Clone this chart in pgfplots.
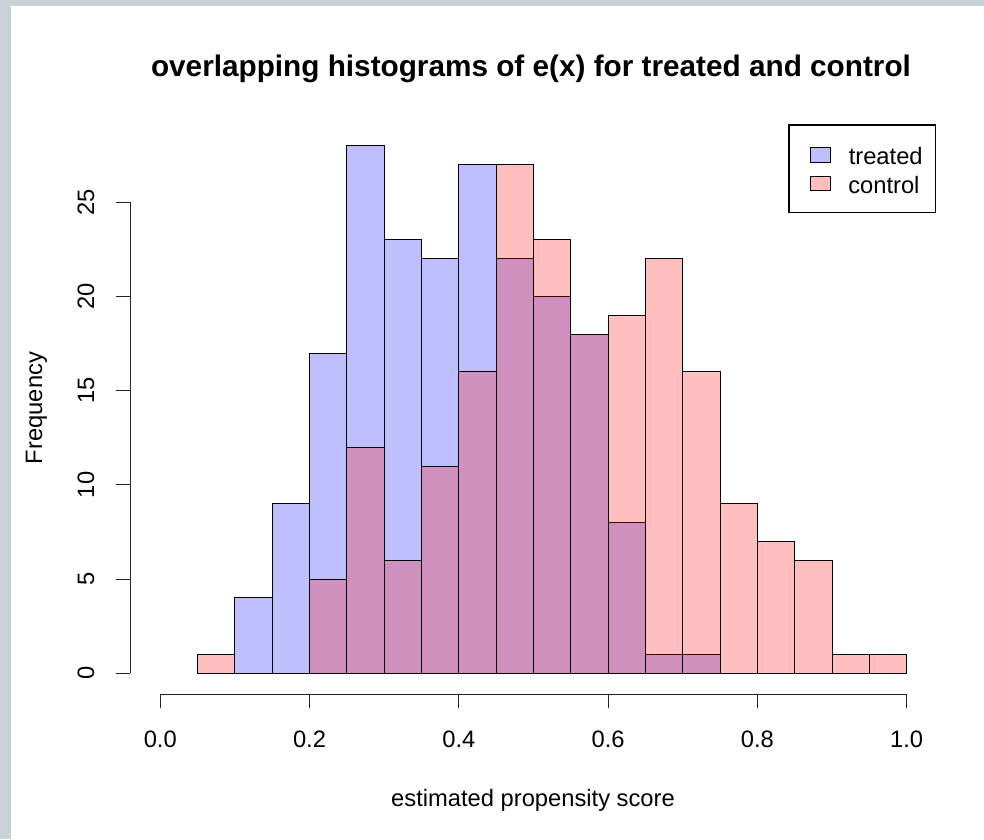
\documentclass[border=0pt]{standalone}
\usepackage{fontspec}
\setmainfont{Liberation Sans}
\usepackage{pgfplots}
\pgfplotsset{compat=1.18}
\definecolor{framegray}{RGB}{200,210,217}
\newcommand{\lab}{\fontsize{17.8}{20}\selectfont}

\begin{document}
\begin{tikzpicture}
% picture in pixel units (1px = 0.75pt), y measured upwards (Y = 839 - row)
\begin{scope}[x=0.75pt,y=0.75pt]
\fill[framegray] (0,0) rectangle (984,839);
\fill[white] (11,0) rectangle (984,833);
\end{scope}

\begin{axis}[
    at={(97.8pt,108.45pt)}, anchor=south west,
    scale only axis, width=604.6pt, height=427.3pt,
    xmin=-0.04, xmax=1.04, ymin=-1.12, ymax=29.12,
    clip=false,
    axis x line*=bottom, axis y line*=left,
    axis line style={draw=none},
    tick align=outside, major tick length=10.5pt,
    tick style={black!85, line width=0.8pt},
    xtick={0,0.2,0.4,0.6,0.8,1}, ytick={0,5,10,15,20,25},
    minor tick num=0,
    /pgf/number format/assume math mode=true,
    xticklabel style={font=\lab, anchor=base,
        /pgf/number format/fixed, /pgf/number format/fixed zerofill,
        /pgf/number format/precision=1},
    xticklabel shift=29pt,
    yticklabel style={font=\lab, rotate=90, anchor=base},
    yticklabel shift=16.7pt,
]
% treated
\addplot[ybar interval, fill=blue, fill opacity=0.25, draw=black, line width=0.75pt]
  coordinates {(0.10,4) (0.15,9) (0.20,17) (0.25,28) (0.30,23) (0.35,22) (0.40,27)
               (0.45,22) (0.50,20) (0.55,18) (0.60,8) (0.65,1) (0.70,1) (0.75,0)};
% control
\addplot[ybar interval, fill=red, fill opacity=0.25, draw=black, line width=0.75pt]
  coordinates {(0.05,1) (0.10,0) (0.15,0) (0.20,5) (0.25,12) (0.30,6) (0.35,11)
               (0.40,16) (0.45,27) (0.50,23) (0.55,18) (0.60,19) (0.65,22) (0.70,16)
               (0.75,9) (0.80,7) (0.85,6) (0.90,1) (0.95,1) (1.00,0)};
% R-style axis lines
\draw[black!85, line width=0.8pt] (axis cs:0,-1.12) -- (axis cs:1,-1.12);
\draw[black!85, line width=0.8pt] (axis cs:-0.04,0) -- (axis cs:-0.04,25);
\end{axis}

\begin{scope}[x=0.75pt,y=0.75pt]
% titles
\node[font=\bfseries\fontsize{22.3}{25}\selectfont, anchor=base] at (531,762)
  {overlapping histograms of e(x) for treated and control};
\node[font=\lab, anchor=base] at (533,33) {estimated propensity score};
\node[font=\lab, rotate=90, anchor=base] at (42,431) {Frequency};

% legend
\draw[black, line width=0.8pt, fill=white] (789,714) rectangle (935.7,626.3);
\draw[black, line width=0.75pt, fill=blue, fill opacity=0.25] (810,691.3) rectangle (830,676.7);
\draw[black, line width=0.75pt, fill=red, fill opacity=0.25] (810,662.3) rectangle (830,648);
\node[font=\lab, anchor=base west, inner sep=0pt] at (848.5,674.7) {treated};
\node[font=\lab, anchor=base west, inner sep=0pt] at (848,645.7) {control};
\end{scope}
\end{tikzpicture}
\end{document}
